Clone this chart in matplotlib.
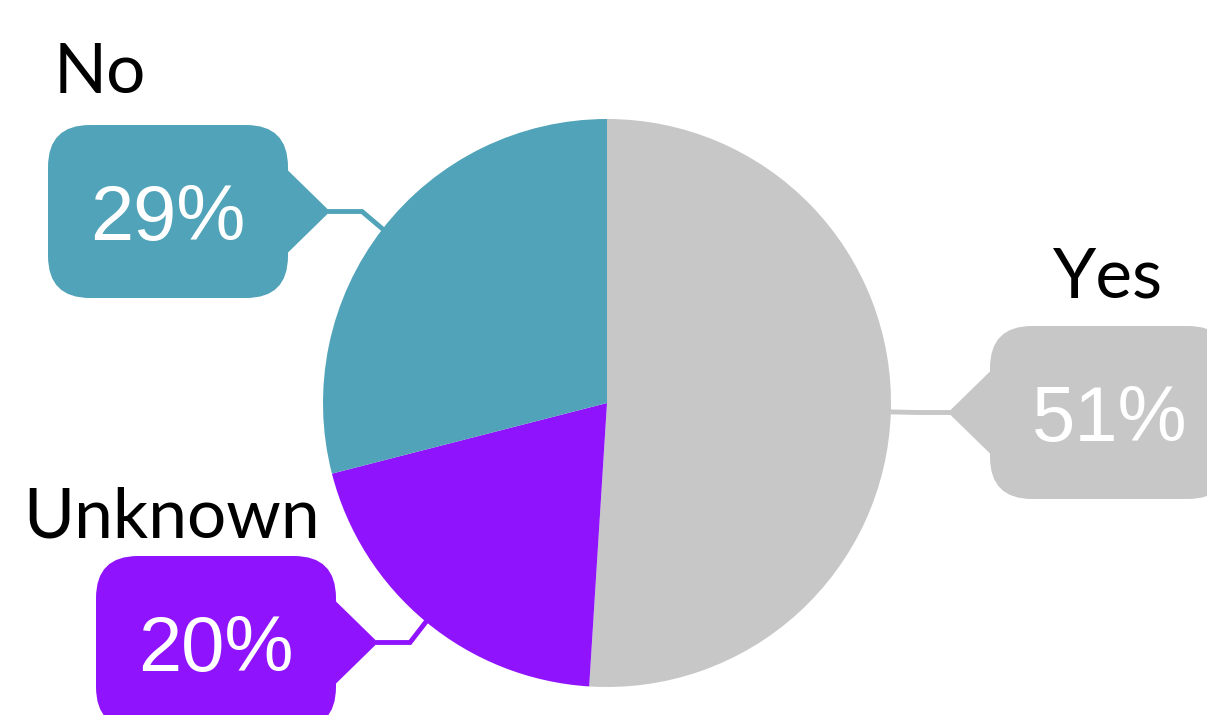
import numpy as np
import matplotlib
matplotlib.use("Agg")
import matplotlib.pyplot as plt
from matplotlib.patches import FancyBboxPatch, Polygon

labels = ["Yes", "Unknown", "No"]
values = [51, 20, 29]
colors = ["#C7C7C7", "#9013FE", "#50A3B8"]

W, H = 1207, 715
fig = plt.figure(figsize=(W / 100, H / 100), dpi=100)
ax = fig.add_axes([0, 0, 1, 1])

def Y(y):
    return H - y

cx, cy, R = 607, Y(403), 284
wedges, _ = ax.pie(values, colors=colors, startangle=90, counterclock=False,
                   center=(cx, cy), radius=R, frame=True,
                   wedgeprops=dict(linewidth=0))
ax.set_xlim(0, W)
ax.set_ylim(0, H)
ax.set_aspect("equal")
ax.axis("off")

layout = {
    "No":      dict(box=(48, 125), side="right", label=(100, 93)),
    "Yes":     dict(box=(990, 326), side="left", label=(1108, 297)),
    "Unknown": dict(box=(96, 556), side="right", label=(172, 538)),
}
bw, bh, rr = 240, 173, 42
ph, pl = 42, 42

for w, lab, val, col in zip(wedges, labels, values, colors):
    L = layout[lab]
    bx, by = L["box"]
    box = FancyBboxPatch((bx, Y(by + bh)), bw, bh,
                         boxstyle=f"round,pad=0,rounding_size={rr}",
                         fc=col, ec="none", zorder=3)
    ax.add_patch(box)
    my = by + bh / 2
    if L["side"] == "right":
        ex = bx + bw
        tip = (ex + pl, my)
        elbow = (tip[0] + 32, my)
        base = ex - 1
    else:
        ex = bx
        tip = (ex - pl, my)
        elbow = (tip[0] - 32, my)
        base = ex + 1
    tri = Polygon([(base, Y(my - ph)), (tip[0], Y(tip[1])), (base, Y(my + ph))],
                  closed=True, fc=col, ec="none", zorder=3)
    ax.add_patch(tri)
    mid = np.deg2rad((w.theta1 + w.theta2) / 2)
    sx, sy = cx + R * np.cos(mid), cy + R * np.sin(mid)
    ax.plot([sx, elbow[0], tip[0]], [sy, Y(elbow[1]), Y(tip[1])],
            color=col, lw=3.5, solid_joinstyle="miter", zorder=2)
    ax.text(bx + bw / 2, Y(my), f"{val}%", color="white", fontsize=56,
            family="Liberation Sans", ha="center", va="center_baseline", zorder=4)
    lx, ly = L["label"]
    ax.text(lx, Y(ly), lab, color="black", fontsize=50, family="Lato",
            ha="center", va="baseline", zorder=4)

fig.savefig("out.png", dpi=100)
